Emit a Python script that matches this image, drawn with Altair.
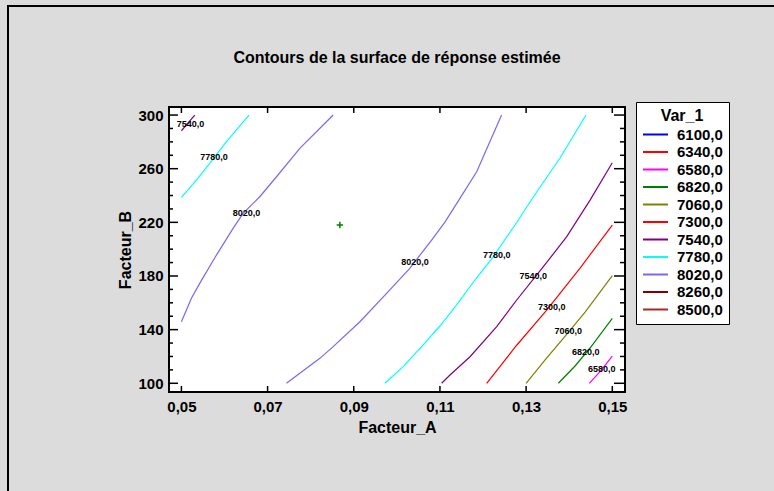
import altair as alt
import pandas as pd

FONT = "Liberation Sans"

# Contour levels listed in the legend and their line colours
levels = ["6100,0", "6340,0", "6580,0", "6820,0", "7060,0", "7300,0",
          "7540,0", "7780,0", "8020,0", "8260,0", "8500,0"]
level_colors = ["#0000FF", "#FF0000", "#FF00FF", "#008000", "#808000", "#FF0000",
                "#800080", "#00FFFF", "#7B68EE", "#800000", "#A52A2A"]

# Contour paths (Facteur_A, Facteur_B)
c8020_left_a = [0.0500, 0.05232, 0.05425, 0.05813, 0.06199, 0.06431, 0.06819, 0.07207, 0.07748, 0.08522]
c8020_left_b = [145.9, 163.4, 174.5, 195.6, 215.5, 226.7, 239.1, 254.0, 275.2, 300.0]
c8020_right_a = [0.07439, 0.07748, 0.08213, 0.08522, 0.09142, 0.09762, 0.1030, 0.10807, 0.11116, 0.11464, 0.11853, 0.1243]
c8020_right_b = [100.0, 107.5, 118.6, 127.3, 145.9, 167.1, 185.7, 206.8, 220.2, 237.9, 257.7, 300.0]
c7780_left_a = [0.0500, 0.05348, 0.05657, 0.06045, 0.0657]
c7780_left_b = [238.6, 251.5, 264.0, 280.1, 300.0]
c7780_right_a = [0.09722, 0.10148, 0.10605, 0.11000, 0.11388, 0.11813, 0.12231, 0.12742, 0.13167, 0.13787, 0.14391]
c7780_right_b = [100.0, 112.4, 128.5, 142.7, 158.4, 177.0, 194.1, 218.0, 238.9, 268.0, 300.0]
c7540_left_a = [0.0500, 0.0531]
c7540_left_b = [288.3, 300.0]
c7540_right_a = [0.11040, 0.11233, 0.11698, 0.12317, 0.12782, 0.13400, 0.13943, 0.14484, 0.1500]
c7540_right_b = [100.0, 106.2, 119.8, 142.2, 162.1, 186.9, 209.3, 236.6, 264.4]
c7300_a = [0.12085, 0.12766, 0.13478, 0.14252, 0.1500]
c7300_b = [100.0, 127.8, 154.6, 185.9, 218.0]
c7060_a = [0.1300, 0.13441, 0.13834, 0.14369, 0.1500]
c7060_b = [100.0, 117.4, 132.3, 153.1, 180.2]
c6820_a = [0.13748, 0.14136, 0.14484, 0.1500]
c6820_b = [100.0, 112.9, 126.3, 148.4]
c6580_a = [0.14468, 0.1475, 0.1500]
c6580_b = [100.0, 110.0, 120.3]

# Inline contour labels
label_text = ["7540,0", "7780,0", "8020,0", "8020,0", "7780,0", "7540,0", "7300,0", "7060,0", "6820,0", "6580,0"]
label_a = [0.05209, 0.05757, 0.06510, 0.10419, 0.12317, 0.13167, 0.13595, 0.13980, 0.14384, 0.14756]
label_b = [293.3, 268.9, 227.2, 190.6, 195.6, 180.0, 157.1, 139.0, 123.6, 110.4]

# Optimum point marker
opt_a = [0.08677]
opt_b = [218.0]

# Axis tick values
x_major = [0.05, 0.07, 0.09, 0.11, 0.13, 0.15]
y_major = [100, 140, 180, 220, 260, 300]
y_minor = [v for v in range(110, 300, 10) if v not in y_major]

segments = [
    ("8020,0", "8020L", c8020_left_a, c8020_left_b),
    ("8020,0", "8020R", c8020_right_a, c8020_right_b),
    ("7780,0", "7780L", c7780_left_a, c7780_left_b),
    ("7780,0", "7780R", c7780_right_a, c7780_right_b),
    ("7540,0", "7540L", c7540_left_a, c7540_left_b),
    ("7540,0", "7540R", c7540_right_a, c7540_right_b),
    ("7300,0", "7300", c7300_a, c7300_b),
    ("7060,0", "7060", c7060_a, c7060_b),
    ("6820,0", "6820", c6820_a, c6820_b),
    ("6580,0", "6580", c6580_a, c6580_b),
]
rows = []
for level, seg, xa, yb in segments:
    for i, (a, b) in enumerate(zip(xa, yb)):
        rows.append({"level": level, "seg": seg, "i": i, "a": a, "b": b})
lines_df = pd.DataFrame(rows)

W, H = 456, 285
x_scale = alt.Scale(domain=[0.04712, 0.15295], nice=False, zero=False)
y_scale = alt.Scale(domain=[93.5, 306.0], nice=False, zero=False)

x_axis = alt.Axis(
    values=x_major, labelExpr="replace(format(datum.value, '.2f'), '.', ',')",
    ticks=False, domain=False, grid=False, labelFont=FONT, labelFontSize=15,
    labelFontWeight="bold", labelColor="black", labelPadding=7,
    title="Facteur_A", titleFont=FONT, titleFontSize=16, titleFontWeight="bold",
    titleColor="black", titleX=W / 2, titleY=35, titleBaseline="middle", titleAlign="center",
    zindex=1,
)
y_axis = alt.Axis(
    values=y_major, format="d", ticks=False, domain=False, grid=False,
    labelFont=FONT, labelFontSize=15, labelFontWeight="bold", labelColor="black",
    labelPadding=6, title="Facteur_B", titleFont=FONT, titleFontSize=16,
    titleFontWeight="bold", titleColor="black", titleAngle=270, titleX=-44,
    titleY=H / 2, titleBaseline="middle", titleAlign="center", zindex=1,
)

X = alt.X("a:Q", scale=x_scale, axis=x_axis)
Y = alt.Y("b:Q", scale=y_scale, axis=y_axis)

legend = alt.Legend(
    title="Var_1", orient="none", legendX=467, legendY=-5,
    symbolType="stroke", symbolSize=625, symbolStrokeWidth=2, clipHeight=17,
    rowPadding=0.5, labelFont=FONT, labelFontSize=15, labelFontWeight="bold",
    labelColor="black", labelOffset=8, titleFont=FONT, titleFontSize=16,
    titleFontWeight="bold", titleColor="black", titleAnchor="middle",
    titlePadding=2, padding=6, strokeColor="black", fillColor="white",
)

# Outer frame of the figure
frame = alt.Chart(pd.DataFrame({"k": [0]})).mark_rect(
    fill="transparent", stroke="black", strokeWidth=2
).encode(
    x=alt.value(-161), x2=alt.value(700), y=alt.value(-101), y2=alt.value(500)
)

lines = alt.Chart(lines_df).mark_line(strokeWidth=1.2).encode(
    x=X, y=Y,
    color=alt.Color("level:N", scale=alt.Scale(domain=levels, range=level_colors), legend=legend),
    detail="seg:N",
    order="i:Q",
)

tick_style = dict(color="black", strokeWidth=1.5)
x_ticks_bottom = alt.Chart(pd.DataFrame({"a": x_major})).mark_rule(**tick_style).encode(
    x=X, y=alt.value(H), y2=alt.value(H - 6))
x_ticks_top = alt.Chart(pd.DataFrame({"a": x_major})).mark_rule(**tick_style).encode(
    x=X, y=alt.value(0), y2=alt.value(6))
y_ticks_left = alt.Chart(pd.DataFrame({"b": y_major})).mark_rule(**tick_style).encode(
    y=Y, x=alt.value(0), x2=alt.value(9))
y_ticks_right = alt.Chart(pd.DataFrame({"b": y_major})).mark_rule(**tick_style).encode(
    y=Y, x=alt.value(W - 11), x2=alt.value(W))
y_minor_left = alt.Chart(pd.DataFrame({"b": y_minor})).mark_rule(**tick_style).encode(
    y=Y, x=alt.value(0), x2=alt.value(4))
y_minor_right = alt.Chart(pd.DataFrame({"b": y_minor})).mark_rule(**tick_style).encode(
    y=Y, x=alt.value(W - 5), x2=alt.value(W))

labels = alt.Chart(pd.DataFrame({"a": label_a, "b": label_b, "t": label_text})).mark_text(
    font=FONT, fontSize=9, fontWeight="bold", color="black"
).encode(x=X, y=Y, text="t:N")

optimum = alt.Chart(pd.DataFrame({"a": opt_a, "b": opt_b})).mark_point(
    shape="M-1,0L1,0M0,-1L0,1", filled=False, color="#008000", strokeWidth=1.5, size=40, opacity=1
).encode(x=X, y=Y)

chart = alt.layer(
    frame, lines, x_ticks_bottom, x_ticks_top, y_ticks_left, y_ticks_right,
    y_minor_left, y_minor_right, labels, optimum,
).properties(
    width=W, height=H,
    title=alt.TitleParams("Contours de la surface de réponse estimée", font=FONT,
                          fontSize=16, fontWeight="bold", color="black",
                          anchor="middle", frame="group", offset=-61),
    autosize=alt.AutoSizeParams(type="none"),
    padding={"left": 169, "top": 107, "right": 774 - 169 - W, "bottom": 491 - 107 - H},
    background="#DCDCDC",
).configure(
    font=FONT
).configure_view(
    fill="white", stroke="black", strokeWidth=2
)

chart.save("out.html", embed_options={"renderer": "svg", "actions": False})
